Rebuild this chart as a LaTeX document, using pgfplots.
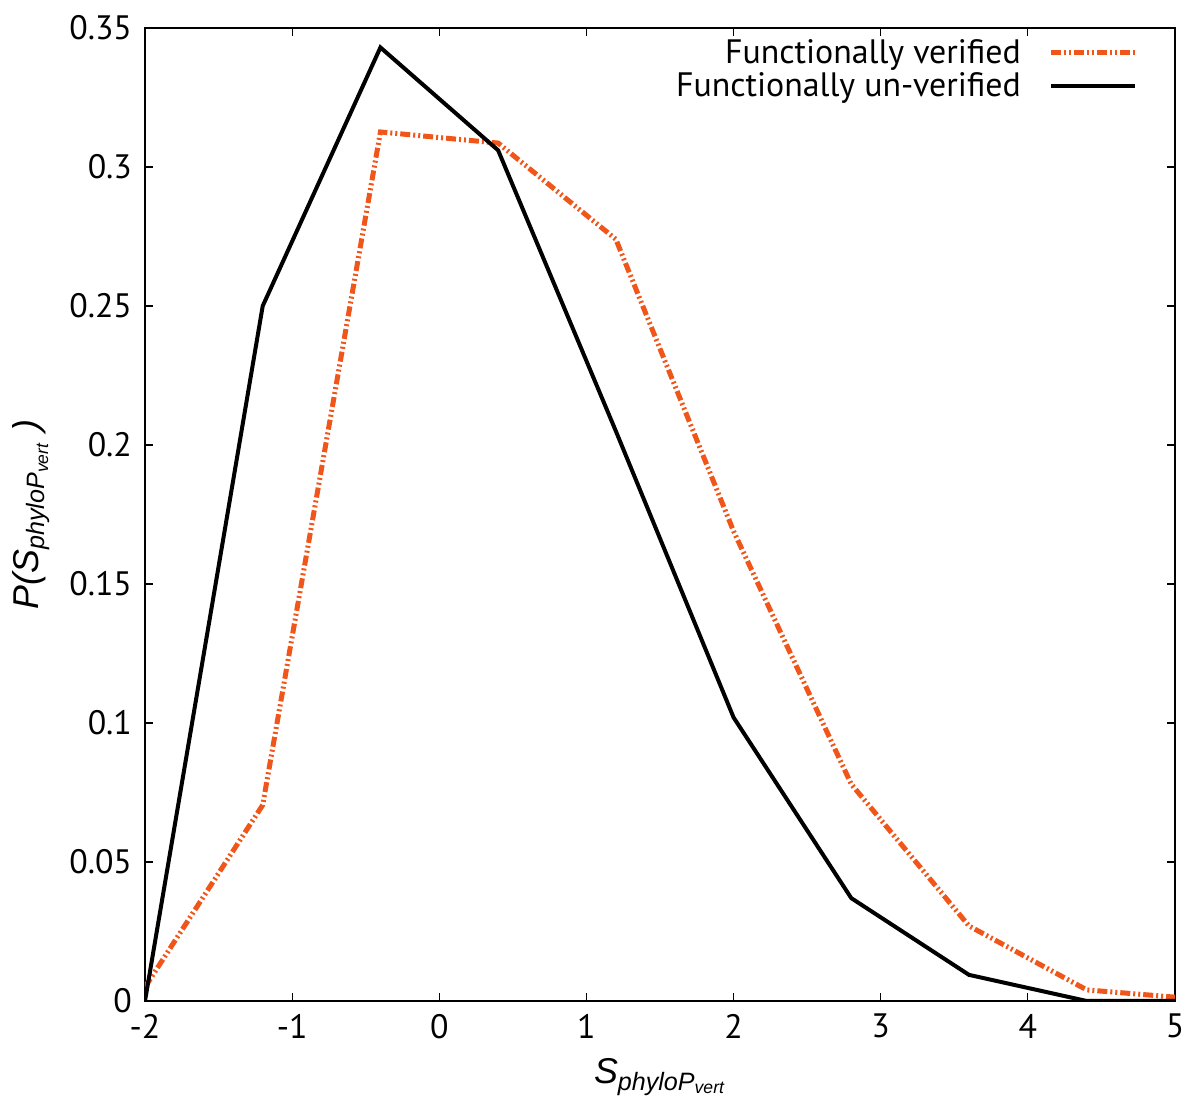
\documentclass[border=0pt]{standalone}
\usepackage{fontspec}
\setmainfont{PT Sans}
\newfontfamily\arialf{Liberation Sans}
\usepackage{pgfplots}
\pgfplotsset{compat=1.18}
\definecolor{verified}{RGB}{240,85,25}
\begin{document}
\begin{tikzpicture}
\useasboundingbox (-72.5bp,-58bp) rectangle (527.5bp,500.5bp);
\begin{axis}[
    at={(0,0)}, anchor=south west,
    scale only axis,
    width=515bp, height=486.5bp,
    xmin=-2, xmax=5, ymin=0, ymax=0.35,
    xtick={-2,...,5},
    ytick={0,0.05,...,0.351},
    scaled y ticks=false,
    yticklabel style={/pgf/number format/fixed, /pgf/number format/precision=2},
    /pgf/number format/assume math mode=true,
    tick align=inside,
    major tick length=4bp,
    tick style={black, line width=0.6bp},
    axis line style={line width=1bp},
    ticklabel style={font=\fontsize{17}{19}\selectfont},
    xticklabel style={yshift=-3bp},
    yticklabel style={xshift=-3bp},
    xlabel={\arialf\itshape\fontsize{18}{21}\selectfont S\textsubscript{phyloP\textsubscript{vert}}},
    ylabel={\arialf\itshape\fontsize{18}{21}\selectfont P(S\textsubscript{phyloP\textsubscript{vert}} )},
    xlabel style={at={(0.5,0)}, anchor=center, yshift=-38bp},
    ylabel style={at={(0,0.5)}, anchor=center, yshift=57bp},
    legend style={draw=none, fill=none, at={(0.970,0.997)}, anchor=north east,
        font=\fontsize{17}{18}\selectfont, row sep=-1bp},
    legend cell align=right,
    legend plot pos=right,
    legend image code/.code={\path (0bp,0bp); \draw[#1] (12bp,0bp) -- (54bp,0bp);},
]
\addplot[verified, line width=2.5bp,
    dash pattern=on 5bp off 1.5bp on 1bp off 1.5bp on 1bp off 1.5bp]
    coordinates {
    (-2,0.005) (-1.2,0.0705) (-0.4,0.3126) (0.4,0.3086) (1.2,0.274)
    (2.0,0.169) (2.8,0.078) (3.6,0.027) (4.4,0.004) (5.2,0.0005)
    };
\addlegendentry{Functionally verified}
\addplot[black, line width=2bp] coordinates {
    (-2,0) (-1.2,0.25) (-0.4,0.343) (0.4,0.306) (1.2,0.205)
    (2.0,0.102) (2.8,0.037) (3.6,0.0094) (4.4,0) (5.2,0)
    };
\addlegendentry{Functionally un-verified}
\end{axis}
\end{tikzpicture}
\end{document}
